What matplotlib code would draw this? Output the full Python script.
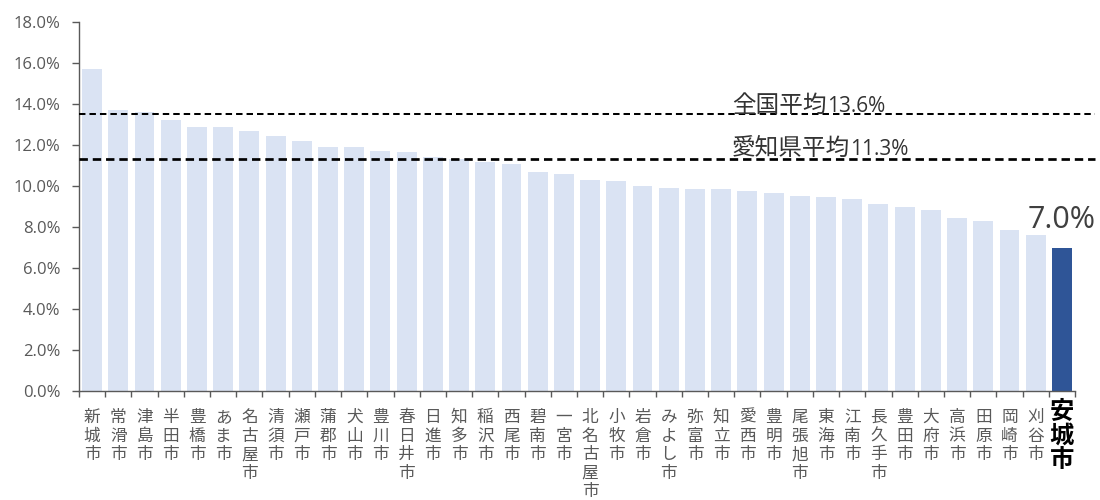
import matplotlib
matplotlib.use('Agg')
import matplotlib.pyplot as plt
from matplotlib.lines import Line2D

cities = ['新城市', '常滑市', '津島市', '半田市', '豊橋市', 'あま市', '名古屋市', '清須市',
          '瀬戸市', '蒲郡市', '犬山市', '豊川市', '春日井市', '日進市', '知多市', '稲沢市',
          '西尾市', '碧南市', '一宮市', '北名古屋市', '小牧市', '岩倉市', 'みよし市', '弥富市',
          '知立市', '愛西市', '豊明市', '尾張旭市', '東海市', '江南市', '長久手市', '豊田市',
          '大府市', '高浜市', '田原市', '岡崎市', '刈谷市', '安城市']
rates = [15.7, 13.7, 13.6, 13.2, 12.9, 12.9, 12.7, 12.45,
         12.2, 11.9, 11.9, 11.7, 11.65, 11.4, 11.3, 11.15,
         11.05, 10.7, 10.6, 10.3, 10.25, 10.0, 9.9, 9.85,
         9.85, 9.75, 9.65, 9.5, 9.45, 9.35, 9.1, 9.0,
         8.85, 8.45, 8.3, 7.85, 7.6, 7.0]
highlight = '安城市'
highlight_label = '7.0%'
national_avg = 13.5
national_name = '全国平均'
national_label = '13.6%'
aichi_avg = 11.3
aichi_name = '愛知県平均'
aichi_label = '11.3%'
yticks = [0, 2, 4, 6, 8, 10, 12, 14, 16, 18]

plt.rcParams['font.family'] = ['Open Sans', 'Noto Sans CJK JP', 'DejaVu Sans']
CJK = ['Noto Sans CJK JP', 'DejaVu Sans']

W, H = 1100, 500
fig = plt.figure(figsize=(11, 5), dpi=100)
ax = fig.add_axes([79 / W, 1 - 391 / H, 996 / W, 369 / H])

xs = list(range(len(cities)))
colors = ['#2F5597' if c == highlight else '#DAE3F3' for c in cities]
ax.bar(xs, rates, width=0.76, color=colors, zorder=2)

ax.set_xlim(-0.5, len(cities) - 0.5)
ax.set_ylim(0, 18)
ax.set_yticks(yticks)
ax.set_yticklabels([f'{v:.1f}%' for v in yticks])
spine_c = '#595959'
ax.tick_params(axis='y', length=5, width=1, color=spine_c, pad=8.5,
               labelsize=12, labelcolor='#595959')
ax.set_xticks([i - 0.5 for i in range(len(cities) + 1)])
ax.set_xticklabels([])
ax.tick_params(axis='x', length=4.3, width=1, color=spine_c)
for s in ['top', 'right']:
    ax.spines[s].set_visible(False)
for s in ['left', 'bottom']:
    ax.spines[s].set_color(spine_c)
    ax.spines[s].set_linewidth(1)

# vertical city labels
xt = ax.get_xaxis_transform()
for i, c in enumerate(cities):
    txt = '\n'.join(c)
    if c == highlight:
        ax.text(i, -9 / 369, txt, transform=xt, ha='center', va='top',
                fontsize=17.5, fontweight='bold', color='black',
                family=CJK, linespacing=1.0)
    else:
        ax.text(i, -18 / 369, txt, transform=xt, ha='center', va='top',
                fontsize=12, color='#595959', family=CJK, linespacing=1.12)

# average lines
lt = ax.get_yaxis_transform()
ax.add_line(Line2D([0, 1.02], [national_avg, national_avg], transform=lt,
                   color='black', lw=1.45, ls=(0, (3.2, 2.0)), clip_on=False, zorder=3))
ax.add_line(Line2D([0, 1.02], [aichi_avg, aichi_avg], transform=lt,
                   color='black', lw=1.95, ls=(0, (3.1, 1.8)), clip_on=False, zorder=3))

name_x = (732 - 79) / 996
t1 = ax.annotate(national_name, xy=(name_x, national_avg), xycoords=lt,
                 xytext=(0, 1.5), textcoords='offset points', va='baseline', ha='left',
                 fontsize=17, color='#333333', family=CJK)
t2 = ax.annotate(aichi_name, xy=(name_x, aichi_avg), xycoords=lt,
                 xytext=(0, 3.4), textcoords='offset points', va='baseline', ha='left',
                 fontsize=17, color='#333333', family=CJK)

# highlight label
hi = cities.index(highlight)
ax.annotate(highlight_label, xy=(hi, rates[hi]), xytext=(0, 14), textcoords='offset points',
            ha='center', va='baseline', fontsize=22, color='#404040')

fig.canvas.draw()
r = fig.canvas.get_renderer()
for t, val, lab, off in [(t1, national_avg, national_label, 1.5), (t2, aichi_avg, aichi_label, 3.4)]:
    bb = t.get_window_extent(r)
    wpt = (bb.x1 - ax.transAxes.transform((name_x, 0))[0]) * 72 / fig.dpi
    ax.annotate(lab, xy=(name_x, val), xycoords=lt, xytext=(wpt + 0.3, off),
                textcoords='offset points', va='baseline', ha='left',
                fontsize=15, color='#333333')

fig.savefig('out.png', dpi=100)
